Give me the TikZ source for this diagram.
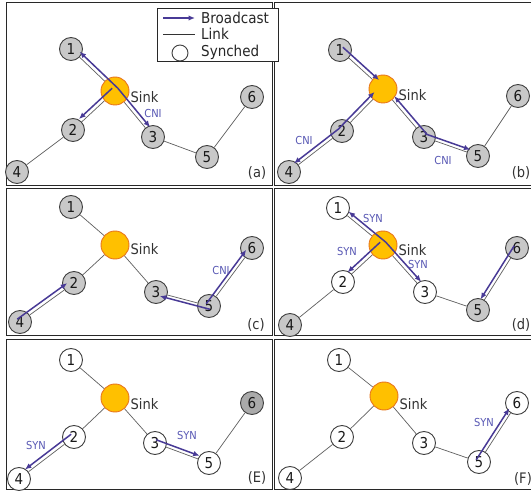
\documentclass[tikz,border=0pt]{standalone}
\usepackage{fontspec}
\setmainfont{DejaVu Sans}[FakeStretch=0.9]
\usetikzlibrary{arrows.meta,calc}

\definecolor{bcblue}{RGB}{72,58,150}
\definecolor{lblblue}{RGB}{88,88,180}
\definecolor{nodegray}{RGB}{200,200,200}
\definecolor{sinkfill}{RGB}{255,192,0}
\definecolor{sinkedge}{RGB}{232,118,28}
\definecolor{linkgray}{RGB}{95,95,95}
\definecolor{framegray}{RGB}{40,40,40}

\tikzset{
  mote/.style={circle, draw=black!75, line width=0.9pt, fill=nodegray,
    minimum size=23pt, inner sep=0pt, font=\fontsize{15}{15}\selectfont, text=black!90},
  synched/.style={mote, fill=white},
  sink/.style={circle, draw=sinkedge, line width=0.9pt, fill=sinkfill,
    minimum size=28pt, inner sep=0pt},
  link/.style={draw=linkgray, line width=0.7pt},
  bcast/.style={draw=bcblue, line width=1.5pt, -{Latex[length=6.5pt,width=5.5pt]}},
  msg/.style={text=lblblue, font=\fontsize{11}{11}\selectfont, inner sep=0pt},
  sinklbl/.style={anchor=west, font=\fontsize{14.5}{14.5}\selectfont, text=black!80, inner sep=0pt},
  tag/.style={font=\fontsize{14.5}{14.5}\selectfont, text=black!80, inner sep=0pt},
  frame/.style={draw=framegray, line width=1pt},
  legtext/.style={anchor=west, font=\fontsize{15}{15}\selectfont, text=black!85, inner sep=0pt},
}

\begin{document}
\begin{tikzpicture}[x=1pt, y=-1pt]
\useasboundingbox (0,0) rectangle (531,492);
\fill[white] (0,0) rectangle (531,492);

% panel frames
\draw[frame] (6,3) rectangle (272,185.5);
\draw[frame] (274.5,3) rectangle (536,185.5);
\draw[frame] (6,189) rectangle (272,336);
\draw[frame] (274.5,189) rectangle (536,336);
\draw[frame] (6,340) rectangle (272,489.5);
\draw[frame] (274.5,340) rectangle (536,489.5);

% ---------------- (a)
\node[sink] (aS) at (115,91) {};
\node[mote] (a1) at (71,49) {1};
\node[mote] (a2) at (73,130) {2};
\node[mote] (a3) at (153,137) {3};
\node[mote] (a4) at (17,172) {4};
\node[mote] (a5) at (207,157) {5};
\node[mote] (a6) at (252,97) {6};
\draw[link] (a1) -- (aS) (aS) -- (a2) (aS) -- (a3) (a2) -- (a4) (a3) -- (a5) (a5) -- (a6);
\node[sinklbl] (aSl) at ([xshift=1pt,yshift=-6pt]aS.east) {Sink};
\draw[bcast, shorten >=8pt] ([shift={(2.8,-2.8)}]aS.center) -- ([shift={(2.8,-2.8)}]a1.center);
\draw[bcast, shorten >=9pt] ([shift={(2.8,-2.8)}]aS.center) -- ([shift={(2.8,-2.8)}]a3.center);
\draw[bcast, shorten >=12pt] ([shift={(-2.8,-2.8)}]aS.center) -- ([shift={(-2.8,-2.8)}]a2.center);
\node[msg] (aM) at (153,113) {CNI};
\node[tag] (aT) at (257,173) {(a)};

% ---------------- (b)
\node[sink] (bS) at (383,89) {};
\node[mote] (b1) at (340,50) {1};
\node[mote] (b2) at (342,131) {2};
\node[mote] (b3) at (424,137) {3};
\node[mote] (b4) at (289,172) {4};
\node[mote] (b5) at (478,156) {5};
\node[mote] (b6) at (518,96) {6};
\draw[link] (b1) -- (bS) (bS) -- (b2) (bS) -- (b3) (b2) -- (b4) (b3) -- (b5) (b5) -- (b6);
\node[sinklbl] (bSl) at ([xshift=1pt,yshift=-6pt]bS.east) {Sink};
\draw[bcast, shorten >=9pt] ([shift={(2.8,-2.8)}]b1.center) -- ([shift={(2.8,-2.8)}]bS.center);
\draw[bcast, shorten >=8pt] ([shift={(-2.8,-2.8)}]b2.center) -- ([shift={(-2.8,-2.8)}]bS.center);
\draw[bcast, shorten >=9pt] ([shift={(-2.2,-3)}]b2.center) -- ([shift={(-2.2,-3)}]b4.center);
\draw[bcast, shorten >=13pt] ([shift={(2.8,-2.8)}]b3.center) -- ([shift={(2.8,-2.8)}]bS.center);
\draw[bcast, shorten >=9pt] ([shift={(0.9,-3.3)}]b3.center) -- ([shift={(0.9,-3.3)}]b5.center);
\node[msg] (bM1) at (304,140) {CNI};
\node[msg] (bM2) at (443,160) {CNI};
\node[tag] (bT) at (521,173) {(b)};

% ---------------- (c)
\node[sink] (cS) at (115,245) {};
\node[mote] (c1) at (71,207) {1};
\node[mote] (c2) at (74,283) {2};
\node[mote] (c3) at (156,292) {3};
\node[mote] (c4) at (20,322) {4};
\node[mote] (c5) at (209,306) {5};
\node[mote] (c6) at (252,248) {6};
\draw[link] (c1) -- (cS) (cS) -- (c2) (cS) -- (c3) (c2) -- (c4) (c3) -- (c5) (c5) -- (c6);
\node[sinklbl] (cSl) at ([xshift=1pt,yshift=-4pt]cS.east) {Sink};
\draw[bcast, shorten >=5pt] ([shift={(-2.8,-2.8)}]c4.center) -- ([shift={(-2.8,-2.8)}]c2.center);
\draw[bcast, shorten >=3pt] ([shift={(0.9,3.3)}]c5.center) -- ([shift={(0.9,3.3)}]c3.center);
\draw[bcast, shorten >=5pt] ([shift={(-2.8,-2.2)}]c5.center) -- ([shift={(-2.8,-2.2)}]c6.center);
\node[msg] (cM) at (221,270) {CNI};
\node[tag] (cT) at (256,325) {(c)};

% ---------------- (d)
\node[sink] (dS) at (383,245) {};
\node[synched] (d1) at (338,208) {1};
\node[synched] (d2) at (343,282) {2};
\node[synched] (d3) at (425,292) {3};
\node[mote] (d4) at (290,325) {4};
\node[mote] (d5) at (478,310) {5};
\node[mote] (d6) at (517,248) {6};
\draw[link] (d1) -- (dS) (dS) -- (d2) (dS) -- (d3) (d2) -- (d4) (d3) -- (d5) (d5) -- (d6);
\node[sinklbl] (dSl) at ([xshift=1pt,yshift=-5pt]dS.east) {Sink};
\draw[bcast, shorten >=10pt] ([shift={(2.8,-2.8)}]dS.center) -- ([shift={(2.8,-2.8)}]d1.center);
\draw[bcast, shorten >=10pt] ([shift={(2.8,-2.8)}]dS.center) -- ([shift={(2.8,-2.8)}]d3.center);
\draw[bcast, shorten >=10pt] ([shift={(-2.8,-2.8)}]dS.center) -- ([shift={(-2.8,-2.8)}]d2.center);
\draw[bcast, shorten >=10pt] ([shift={(-2.8,-2.2)}]d6.center) -- ([shift={(-2.8,-2.2)}]d5.center);
\node[msg] (dM1) at (373,218) {SYN};
\node[msg] (dM2) at (347,251) {SYN};
\node[msg] (dM3) at (418,264) {SYN};
\node[tag] (dT) at (521,325) {(d)};

% ---------------- (E)
\node[sink] (eS) at (115,398) {};
\node[synched] (e1) at (71,360) {1};
\node[synched] (e2) at (74,437) {2};
\node[synched] (e3) at (155,443) {3};
\node[synched] (e4) at (19,479) {4};
\node[synched] (e5) at (209,463) {5};
\node[mote, fill=nodegray!85!black] (e6) at (252,403) {6};
\draw[link] (e1) -- (eS) (eS) -- (e2) (eS) -- (e3) (e2) -- (e4) (e3) -- (e5) (e5) -- (e6);
\node[sinklbl] (eSl) at ([xshift=1pt,yshift=-6pt]eS.east) {Sink};
\draw[bcast, shorten >=11pt] ([shift={(-2.8,-2.8)}]e2.center) -- ([shift={(-2.8,-2.8)}]e4.center);
\draw[bcast, shorten >=11pt] ([shift={(1,-3.3)}]e3.center) -- ([shift={(1,-3.3)}]e5.center);
\node[msg] (eM1) at (36,445) {SYN};
\node[msg] (eM2) at (187,435) {SYN};
\node[tag] (eT) at (257,478) {(E)};

% ---------------- (F)
\node[sink] (fS) at (384,396) {};
\node[synched] (f1) at (339,360) {1};
\node[synched] (f2) at (342,437) {2};
\node[synched] (f3) at (424,443) {3};
\node[synched] (f4) at (290,478) {4};
\node[synched] (f5) at (479,462) {5};
\node[synched] (f6) at (517,403) {6};
\draw[link] (f1) -- (fS) (fS) -- (f2) (fS) -- (f3) (f2) -- (f4) (f3) -- (f5) (f5) -- (f6);
\node[sinklbl] (fSl) at ([xshift=1pt,yshift=-8pt]fS.east) {Sink};
\draw[bcast, shorten >=9pt] ([shift={(-2.8,-2.2)}]f5.center) -- ([shift={(-2.8,-2.2)}]f6.center);
\node[msg] (fM) at (484,422) {SYN};
\node[tag] (fT) at (523,479) {(F)};

% ---------------- legend
\node[draw=framegray, line width=0.9pt, fill=white, minimum width=121pt,
      minimum height=53pt, inner sep=0pt, anchor=north west] (legend) at (157,8) {};
\coordinate (lgA1) at (163,18);
\coordinate (lgA2) at (195,18);
\coordinate (lgL1) at (163,34);
\coordinate (lgL2) at (195,34);
\draw[bcast] (lgA1) -- (lgA2);
\draw[link, draw=black!80] (lgL1) -- (lgL2);
\node[synched, minimum size=16pt] (lgC) at (180,53) {};
\node[legtext] (lgT1) at (201,18) {Broadcast};
\node[legtext] (lgT2) at (201,34) {Link};
\node[legtext] (lgT3) at (201,52) {Synched};
\end{tikzpicture}
\end{document}
